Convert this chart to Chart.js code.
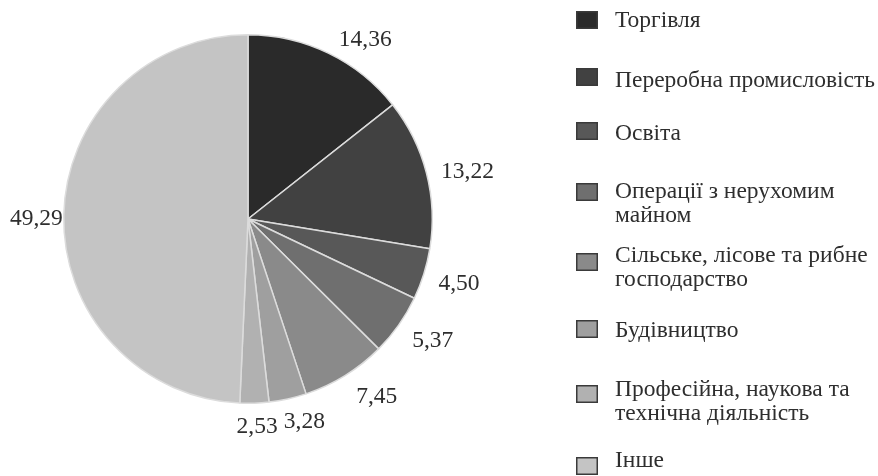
<!DOCTYPE html>
<html>
<head>
<meta charset="utf-8">
<script src="https://cdn.jsdelivr.net/npm/chart.js@4/dist/chart.umd.min.js"></script>
<style>
  html, body { margin: 0; padding: 0; background: #fff; }
  #wrap { width: 878px; height: 476px; position: relative; }
</style>
</head>
<body>
<div id="wrap"><canvas id="chart" width="878" height="476"></canvas></div>
<script>
const categories = [
  'Торгівля',
  'Переробна промисловість',
  'Освіта',
  'Операції з нерухомим\nмайном',
  'Сільське, лісове та рибне\nгосподарство',
  'Будівництво',
  'Професійна, наукова та\nтехнічна діяльність',
  'Інше',
]
const shares = [14.36, 13.22, 4.50, 5.37, 7.45, 3.28, 2.53, 49.29]
const shareLabels = ['14,36', '13,22', '4,50', '5,37', '7,45', '3,28', '2,53', '49,29']
const greys = ['#2a2a2a', '#414141', '#585858', '#6f6f6f', '#8a8a8a', '#9f9f9f', '#b1b1b1', '#c4c4c4']

const textColor = '#2e2e2e'
const serif = '"Liberation Serif", "DejaVu Serif", serif'

// value labels outside each slice, anchored to the arc's outer edge
const outsideLabels = {
  id: 'outsideLabels',
  afterDatasetsDraw(chart, _args, opts) {
    const { ctx } = chart
    const arcs = chart.getDatasetMeta(0).data
    ctx.save()
    ctx.font = `${opts.size}px ${serif}`
    ctx.fillStyle = textColor
    ctx.textBaseline = 'middle'
    ctx.textAlign = 'center'
    arcs.forEach((arc, i) => {
      const { x, y, startAngle, endAngle, outerRadius } = arc.getProps(['x', 'y', 'startAngle', 'endAngle', 'outerRadius'], true)
      const mid = (startAngle + endAngle) / 2
      const dx = Math.cos(mid)
      const dy = Math.sin(mid)
      const text = shareLabels[i]
      const w = ctx.measureText(text).width
      const ax = x + dx * (outerRadius + opts.offset)
      const ay = y + dy * (outerRadius + opts.offset)
      const k = Math.max(-1, Math.min(1, dx * 2.5))
      ctx.fillText(text, ax + k * w / 2 + 7 * Math.abs(k), ay + dy * opts.size * 0.5 + 4)
    })
    ctx.restore()
  },
}

// legend drawn on the canvas so that wrapped labels can be placed freely
const sideLegend = {
  id: 'sideLegend',
  afterDraw(chart, _args, opts) {
    const { ctx } = chart
    const labels = chart.data.labels
    const colors = chart.data.datasets[0].backgroundColor
    ctx.save()
    ctx.font = `${opts.size}px ${serif}`
    ctx.textBaseline = 'middle'
    ctx.textAlign = 'left'
    labels.forEach((label, i) => {
      const top = opts.rows[i]
      const by = opts.boxRows[i]
      ctx.fillStyle = colors[i]
      ctx.fillRect(opts.boxX, by - 9, 22, 18)
      ctx.strokeStyle = '#3a3a3a'
      ctx.lineWidth = 1.5
      ctx.strokeRect(opts.boxX + 0.75, by - 8.25, 20.5, 16.5)
      ctx.fillStyle = textColor
      label.split('\n').forEach((line, j) => ctx.fillText(line, opts.textX, top + j * opts.lineHeight))
    })
    ctx.restore()
  },
}

new Chart(document.getElementById('chart'), {
  type: 'pie',
  data: {
    labels: categories,
    datasets: [{
      data: shares,
      backgroundColor: greys,
      borderColor: '#dcdcdc',
      borderWidth: 1.5,
    }],
  },
  options: {
    responsive: false,
    animation: false,
    events: [],
    layout: { padding: { left: 63, top: 34, right: 445, bottom: 72 } },
    plugins: {
      legend: { display: false },
      tooltip: { enabled: false },
      outsideLabels: { size: 23.5, offset: 8 },
      sideLegend: {
        size: 23.5,
        boxX: 576,
        textX: 615,
        lineHeight: 24,
        rows: [21, 81, 134, 192, 256, 331, 390, 461],
        boxRows: [20, 77, 131, 192, 262, 329, 394, 466],
      },
    },
  },
  plugins: [outsideLabels, sideLegend],
})
</script>
</body>
</html>
